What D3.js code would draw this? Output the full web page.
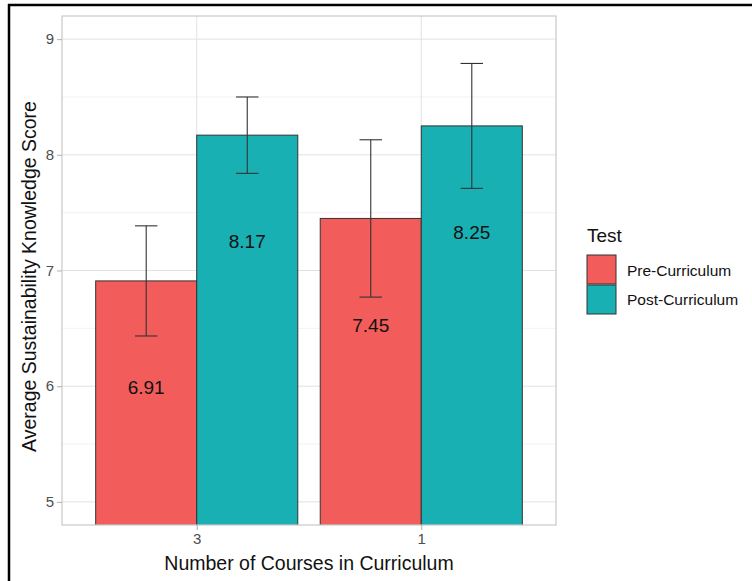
<!DOCTYPE html>
<html><head><meta charset="utf-8">
<script src="https://cdn.jsdelivr.net/npm/d3@7"></script>
<style>body{margin:0;background:#fff}svg{display:block}text{font-family:"Liberation Sans",Arial,sans-serif}</style>
</head><body><svg id="c" width="752" height="581"></svg>
<script>
const categories = ["3", "1"];
const tests = ["Pre-Curriculum", "Post-Curriculum"];
const preMeans = [6.91, 7.45];
const postMeans = [8.17, 8.25];
const preErr = [0.476, 0.68];
const postErr = [0.33, 0.54];
const yTicks = [5, 6, 7, 8, 9];
const yMinor = [5.5, 6.5, 7.5, 8.5];
const colors = ["#F25D5B", "#19B0B4"];

const data = [];
categories.forEach((c, i) => {
  data.push({cat: c, test: tests[0], mean: preMeans[i], err: preErr[i]});
  data.push({cat: c, test: tests[1], mean: postMeans[i], err: postErr[i]});
});

const svg = d3.select("#c");
const P = {l: 62, r: 556, t: 16, b: 525};

svg.append("line").attr("x1", 9).attr("x2", 9).attr("y1", 4).attr("y2", 581).attr("stroke", "#000").attr("stroke-width", 2.5);
svg.append("line").attr("x1", 8).attr("x2", 752).attr("y1", 5).attr("y2", 5).attr("stroke", "#000").attr("stroke-width", 2.5);

const y = d3.scaleLinear().domain([4.8, 9.2]).range([P.b, P.t]);
const unit = (P.r - P.l) / 2.2;
const cx = d => P.l + (0.6 + categories.indexOf(d)) * unit;
const xs = d3.scaleBand().domain(tests).range([-0.45 * unit, 0.45 * unit]);

svg.append("clipPath").attr("id", "pc").append("rect")
  .attr("x", P.l).attr("y", P.t).attr("width", P.r - P.l).attr("height", P.b - P.t);

const g = svg.append("g");
g.selectAll(".mn").data(yMinor).enter().append("line")
  .attr("x1", P.l).attr("x2", P.r).attr("y1", d => y(d)).attr("y2", d => y(d))
  .attr("stroke", "#efefef").attr("stroke-width", 0.8);
g.selectAll(".mj").data(yTicks).enter().append("line")
  .attr("x1", P.l).attr("x2", P.r).attr("y1", d => y(d)).attr("y2", d => y(d))
  .attr("stroke", "#e2e2e2").attr("stroke-width", 1);
g.selectAll(".vx").data(categories).enter().append("line")
  .attr("x1", d => cx(d)).attr("x2", d => cx(d)).attr("y1", P.t).attr("y2", P.b)
  .attr("stroke", "#e2e2e2").attr("stroke-width", 1);

const bars = svg.append("g").attr("clip-path", "url(#pc)");
bars.selectAll("rect").data(data).enter().append("rect")
  .attr("x", d => cx(d.cat) + xs(d.test))
  .attr("width", xs.bandwidth())
  .attr("y", d => y(d.mean))
  .attr("height", d => y(0) - y(d.mean))
  .attr("fill", d => colors[tests.indexOf(d.test)])
  .attr("stroke", "#333").attr("stroke-width", 1);

const ew = 0.05 * unit;
const eb = svg.append("g").attr("stroke", "#333").attr("stroke-width", 1.1);
data.forEach(d => {
  const xc = cx(d.cat) + xs(d.test) + xs.bandwidth() / 2;
  eb.append("line").attr("x1", xc).attr("x2", xc).attr("y1", y(d.mean + d.err)).attr("y2", y(d.mean - d.err));
  eb.append("line").attr("x1", xc - ew).attr("x2", xc + ew).attr("y1", y(d.mean + d.err)).attr("y2", y(d.mean + d.err));
  eb.append("line").attr("x1", xc - ew).attr("x2", xc + ew).attr("y1", y(d.mean - d.err)).attr("y2", y(d.mean - d.err));
});

svg.append("g").selectAll("text").data(data).enter().append("text")
  .attr("x", d => cx(d.cat) + xs(d.test) + xs.bandwidth() / 2)
  .attr("y", d => y(d.mean - 0.92))
  .attr("dy", "0.35em").attr("text-anchor", "middle")
  .attr("font-size", 19).attr("fill", "#111").text(d => d.mean.toFixed(2));

svg.append("rect").attr("x", P.l).attr("y", P.t).attr("width", P.r - P.l).attr("height", P.b - P.t)
  .attr("fill", "none").attr("stroke", "#c8c8c8").attr("stroke-width", 1.2);

const ya = svg.append("g").attr("transform", `translate(${P.l},0)`)
  .call(d3.axisLeft(y).tickValues(yTicks).tickSize(5).tickPadding(3).tickFormat(d3.format("d")));
ya.select(".domain").remove();
ya.selectAll("line").attr("stroke", "#b0b0b0");
ya.selectAll("text").attr("font-size", 15).attr("fill", "#4d4d4d").style("font-family", "Liberation Sans, Arial, sans-serif");

const xAxisScale = d3.scaleOrdinal().domain(categories).range(categories.map(cx));
const xa = svg.append("g").attr("transform", `translate(0,${P.b})`)
  .call(d3.axisBottom(xAxisScale).tickSize(5).tickPadding(3));
xa.select(".domain").remove();
xa.selectAll("line").attr("stroke", "#b0b0b0");
xa.selectAll("text").attr("font-size", 15).attr("fill", "#4d4d4d").style("font-family", "Liberation Sans, Arial, sans-serif");

svg.append("text").attr("x", (P.l + P.r) / 2).attr("y", 570).attr("text-anchor", "middle")
  .attr("font-size", 19.5).attr("fill", "#111").text("Number of Courses in Curriculum");
svg.append("text").attr("transform", `translate(36,${(P.t + P.b) / 2 + 6}) rotate(-90)`).attr("text-anchor", "middle")
  .attr("font-size", 19.5).attr("fill", "#111").text("Average Sustainability Knowledge Score");

const lg = svg.append("g");
lg.append("text").attr("x", 587).attr("y", 242).attr("font-size", 19).attr("fill", "#111").text("Test");
tests.forEach((t, i) => {
  lg.append("rect").attr("x", 587).attr("y", 255 + i * 30).attr("width", 29).attr("height", 29)
    .attr("fill", colors[i]).attr("stroke", "#333").attr("stroke-width", 1);
  lg.append("text").attr("x", 627).attr("y", 271 + i * 29).attr("dy", "0.35em")
    .attr("font-size", 15.5).attr("fill", "#111").text(t);
});
</script></body></html>
